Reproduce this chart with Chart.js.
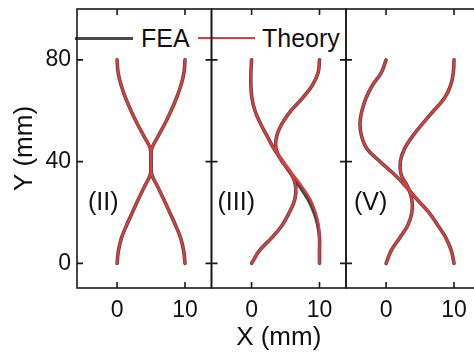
<!DOCTYPE html>
<html>
<head>
<meta charset="utf-8">
<script src="https://cdn.jsdelivr.net/npm/chart.js@4.4.1/dist/chart.umd.min.js"></script>
<style>
	body { margin: 0; background: white; overflow: hidden; }
	#wrap { position: relative; width: 474px; height: 358px; }
	canvas { position: absolute; left: 0; top: 0; }
	.leg { position: absolute; font-family: "Liberation Sans", Arial, sans-serif; font-size: 25px; color: #111; line-height: 1; }
	.legline { position: absolute; }
</style>
</head>
<body>
<div id="wrap">
	<div class="legline" style="left:75px; top:37px; width:58px; height:3px; background:#4a4a4a;"></div>
	<div class="leg" style="left:141px; top:26px;">FEA</div>
	<div class="legline" style="left:198px; top:37px; width:57px; height:2px; background:#e23b3b;"></div>
	<div class="leg" style="left:262px; top:26px;">Theory</div>
	<canvas id="chartII" width="490" height="358"></canvas>
	<canvas id="chartIII" width="490" height="358"></canvas>
	<canvas id="chartV" width="490" height="358"></canvas>
</div>
<script>
/* 데이터 */
const yVals = [80, 75, 70, 65, 60, 55, 50, 45, 40, 35, 30, 25, 20, 15, 10, 5, 0];
const xTicks = [0, 10];
const yTicks = [0, 40, 80];
const panelLabels = ["(II)", "(III)", "(V)"];

// (II)
const theoryII_a = [0, 0.15, 0.6, 1.25, 2.05, 2.95, 3.95, 4.9, 5.0, 4.9, 4.0, 3.1, 2.25, 1.4, 0.65, 0.2, 0];
const theoryII_b = [10, 9.85, 9.4, 8.75, 7.95, 7.05, 6.05, 5.1, 5.0, 5.1, 6.0, 6.9, 7.75, 8.6, 9.35, 9.8, 10];
const feaII_a = [0, 0.15, 0.6, 1.25, 2.05, 2.95, 3.95, 4.9, 5.0, 4.9, 4.0, 3.1, 2.25, 1.4, 0.65, 0.2, 0];
const feaII_b = [10, 9.85, 9.4, 8.75, 7.95, 7.05, 6.05, 5.1, 5.0, 5.1, 6.0, 6.9, 7.75, 8.6, 9.35, 9.8, 10];

// (III)
const theoryIII_a = [0, -0.1, -0.1, 0.05, 0.5, 1.3, 2.3, 3.3, 4.7, 6.1, 7.5, 8.7, 9.45, 9.9, 10, 10, 10];
const theoryIII_b = [10, 9.8, 8.95, 7.5, 5.8, 4.5, 3.7, 3.6, 4.5, 5.9, 6.5, 6.35, 5.55, 4.5, 2.95, 1.15, 0];
const feaIII_a = [0, -0.1, -0.1, 0.05, 0.5, 1.3, 2.3, 3.3, 4.6, 5.85, 7.15, 8.35, 9.2, 9.75, 10, 10, 10];
const feaIII_b = [10, 9.8, 8.95, 7.5, 5.8, 4.5, 3.7, 3.6, 4.5, 5.9, 6.5, 6.35, 5.55, 4.5, 2.95, 1.15, 0];

// (V)
const theoryV_a = [0, -0.7, -2.0, -2.95, -3.55, -3.85, -3.6, -2.8, -0.9, 1.2, 3.0, 4.6, 6.3, 7.6, 8.8, 9.6, 10];
const theoryV_b = [10, 9.9, 9.5, 8.6, 7.0, 5.4, 3.9, 2.7, 2.1, 2.2, 3.2, 3.8, 3.8, 3.2, 2.0, 0.75, 0];
const feaV_a = [0, -0.7, -2.0, -2.95, -3.55, -3.85, -3.6, -2.8, -0.9, 1.2, 3.0, 4.6, 6.3, 7.6, 8.8, 9.6, 10];
const feaV_b = [10, 9.9, 9.5, 8.6, 7.0, 5.4, 3.9, 2.7, 2.1, 2.2, 3.2, 3.8, 3.8, 3.2, 2.0, 0.75, 0];

const FONT = "'Liberation Sans', Arial, sans-serif";
const RED = "#e23b3b";
const GRAY = "#474747";

function toPts(xs) {
	return xs.map((v, i) => ({ x: v, y: yVals[i] }));
}

function curve(xs, color, width) {
	return {
		data: toPts(xs),
		showLine: true,
		borderColor: color,
		backgroundColor: color,
		borderWidth: width,
		borderCapStyle: "round",
		pointRadius: 0,
		tension: 0.4
	};
}

/* 테두리, 안쪽 눈금, 패널 라벨 */
const framePlugin = {
	id: "frame",
	afterDraw(chart, args, opts) {
		const ctx = chart.ctx;
		const a = chart.chartArea;
		const x = chart.scales.x;
		const y = chart.scales.y;
		ctx.save();
		ctx.strokeStyle = "#1a1a1a";
		ctx.lineWidth = 1.6;
		ctx.strokeRect(a.left, a.top, a.right - a.left, a.bottom - a.top);
		ctx.beginPath();
		xTicks.forEach(v => {
			const px = x.getPixelForValue(v);
			ctx.moveTo(px, a.top); ctx.lineTo(px, a.top + 6);
			ctx.moveTo(px, a.bottom); ctx.lineTo(px, a.bottom - 6);
		});
		yTicks.forEach(v => {
			const py = y.getPixelForValue(v);
			ctx.moveTo(a.left, py); ctx.lineTo(a.left + 6, py);
			ctx.moveTo(a.right, py); ctx.lineTo(a.right - 6, py);
		});
		ctx.stroke();
		ctx.fillStyle = "#111";
		ctx.font = "25px " + FONT;
		ctx.textBaseline = "middle";
		ctx.textAlign = "left";
		ctx.fillText(opts.label, a.left + opts.dx, 203);
		ctx.restore();
	}
};

function makeChart(id, datasets, opt) {
	const ctx = document.getElementById(id).getContext("2d");
	return new Chart(ctx, {
		type: "scatter",
		data: { datasets: datasets },
		options: {
			responsive: false,
			devicePixelRatio: 1,
			animation: false,
			layout: { padding: { left: opt.padLeft, right: opt.padRight, top: 9, bottom: 0 } },
			plugins: {
				legend: { display: false },
				tooltip: { enabled: false },
				frame: { label: opt.label, dx: opt.labelDx }
			},
			scales: {
				x: {
					type: "linear",
					min: -5.9,
					max: 13.9,
					grid: { display: false, drawTicks: false },
					border: { display: false },
					afterBuildTicks: s => { s.ticks = xTicks.map(v => ({ value: v })); },
					afterFit: s => { s.height = 70; s.paddingLeft = 0; s.paddingRight = 0; },
					ticks: { color: "#111", font: { family: FONT, size: 23 }, padding: 9, maxRotation: 0 },
					title: {
						display: opt.xTitle,
						text: "X (mm)",
						color: "#111",
						font: { family: FONT, size: 26 },
						padding: { top: 0, bottom: 5 }
					}
				},
				y: {
					type: "linear",
					display: opt.yAxis,
					min: -9.7,
					max: 100,
					grid: { display: false, drawTicks: false },
					border: { display: false },
					afterBuildTicks: s => { s.ticks = yTicks.map(v => ({ value: v })); },
					afterFit: s => {
						s.width = opt.yAxis ? 77 : 0;
						s.paddingTop = 0;
						s.paddingBottom = 0;
					},
					ticks: { color: "#111", font: { family: FONT, size: 23 }, padding: 6 },
					title: {
						display: true,
						text: "Y (mm)",
						color: "#111",
						font: { family: FONT, size: 26 },
						padding: { top: 9, bottom: 0 }
					}
				}
			}
		},
		plugins: [framePlugin]
	});
}

makeChart("chartII", [
	curve(theoryII_a, RED, 2.2), curve(theoryII_b, RED, 2.2),
	curve(feaII_a, GRAY, 3.6), curve(feaII_b, GRAY, 3.6)
], { padLeft: 0, padRight: 278.5, label: panelLabels[0], labelDx: 11, xTitle: false, yAxis: true });

makeChart("chartIII", [
	curve(theoryIII_a, RED, 2.2), curve(theoryIII_b, RED, 2.2),
	curve(feaIII_a, GRAY, 3.6), curve(feaIII_b, GRAY, 3.6)
], { padLeft: 211.5, padRight: 144, label: panelLabels[1], labelDx: 6, xTitle: true, yAxis: false });

makeChart("chartV", [
	curve(theoryV_a, RED, 2.2), curve(theoryV_b, RED, 2.2),
	curve(feaV_a, GRAY, 3.6), curve(feaV_b, GRAY, 3.6)
], { padLeft: 346, padRight: 9.5, label: panelLabels[2], labelDx: 8, xTitle: false, yAxis: false });
</script>
</body>
</html>
